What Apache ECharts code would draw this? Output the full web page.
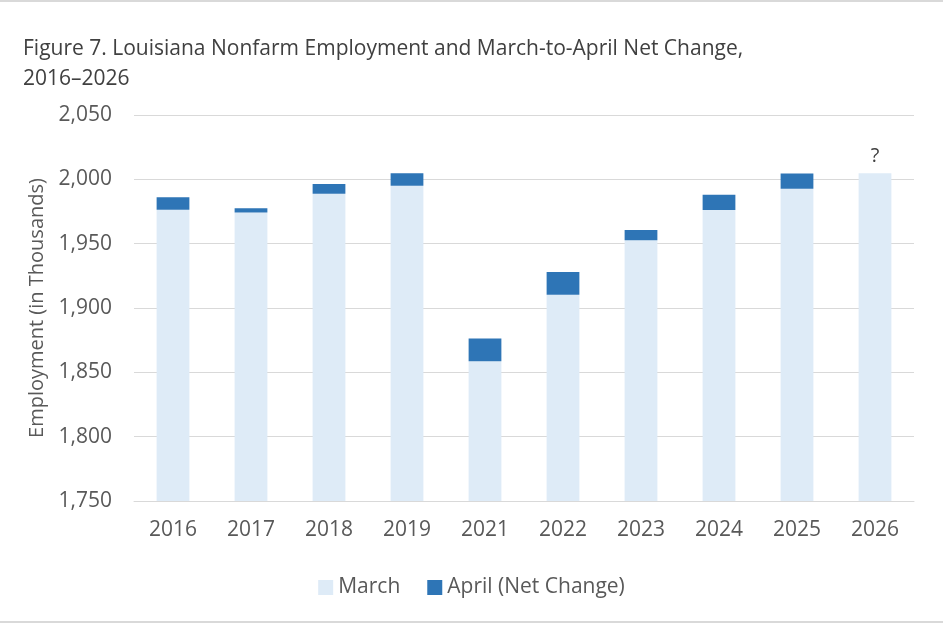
<!DOCTYPE html>
<html>
<head>
<meta charset="utf-8">
<style>
  html, body { margin: 0; padding: 0; background: #fff; }
  #chart1 { width: 943px; height: 623px; }
</style>
<script src="https://cdn.jsdelivr.net/npm/echarts@6/dist/echarts.min.js"></script>
</head>
<body>
<div id="chart1"></div>
<script>
// 年份
let years = ['2016', '2017', '2018', '2019', '2021', '2022', '2023', '2024', '2025', '2026'];
// 三月就业人数（千人）
let march = [1976.3, 1974.3, 1988.8, 1995.0, 1858.6, 1910.3, 1952.6, 1976.1, 1992.6, 2004.7];
// 三月到四月的净变化
let aprilChange = [9.7, 3.3, 7.5, 9.7, 17.7, 17.6, 8.0, 12.0, 12.0, null];

let fontFamily = 'Open Sans';
let textColor = '#595959';
let fontSize = 21;

let chart1 = echarts.init(document.getElementById('chart1'));

let marchData = march.map(function (v, i) {
    if (years[i] === '2026') {
        return {
            value: v,
            label: { show: true, position: 'top', distance: 7, formatter: '?', color: '#404040', fontSize: 20, fontFamily: fontFamily }
        };
    }
    return v;
});

let option = {
    backgroundColor: '#fff',
    animation: false,
    title: {
        text: 'Figure 7. Louisiana Nonfarm Employment and March-to-April Net Change,\n2016–2026',
        left: 18,
        top: 29,
        textStyle: {
            color: '#404040',
            fontSize: 21,
            fontWeight: 'normal',
            fontFamily: fontFamily,
            lineHeight: 30
        }
    },
    graphic: [
        { type: 'rect', shape: { x: 0, y: 0, width: 943, height: 2 }, style: { fill: '#d9d9d9' } },
        { type: 'rect', shape: { x: 0, y: 621, width: 943, height: 2 }, style: { fill: '#d9d9d9' } }
    ],
    legend: {
        top: 572,
        left: 'center',
        itemWidth: 15,
        itemHeight: 15,
        itemGap: 27,
        icon: 'rect',
        textStyle: { color: textColor, fontSize: fontSize, fontFamily: fontFamily },
        data: ['March', 'April (Net Change)']
    },
    grid: {
        left: 134,
        right: 29,
        top: 115,
        bottom: 122
    },
    xAxis: {
        type: 'category',
        data: years,
        axisTick: { show: false },
        axisLine: { lineStyle: { color: '#d9d9d9' } },
        axisLabel: { color: textColor, fontSize: fontSize, fontFamily: fontFamily, margin: 19 }
    },
    yAxis: {
        type: 'value',
        min: 1750,
        max: 2050,
        interval: 50,
        name: 'Employment (in Thousands)',
        nameLocation: 'middle',
        nameGap: 86,
        nameTextStyle: { color: textColor, fontSize: 20, fontFamily: fontFamily },
        axisLine: { show: false },
        axisTick: { show: false },
        splitLine: { lineStyle: { color: '#d9d9d9' } },
        axisLabel: {
            color: textColor,
            fontSize: fontSize,
            fontFamily: fontFamily,
            margin: 22,
            formatter: function (v) { return v.toLocaleString('en-US'); }
        }
    },
    series: [{
        name: 'March',
        type: 'bar',
        stack: 'emp',
        barWidth: '42%',
        itemStyle: { color: '#deebf7' },
        data: marchData
    }, {
        name: 'April (Net Change)',
        type: 'bar',
        stack: 'emp',
        itemStyle: { color: '#2e75b6' },
        data: aprilChange
    }]
};

window.onresize = chart1.resize;
chart1.setOption(option);
</script>
</body>
</html>
